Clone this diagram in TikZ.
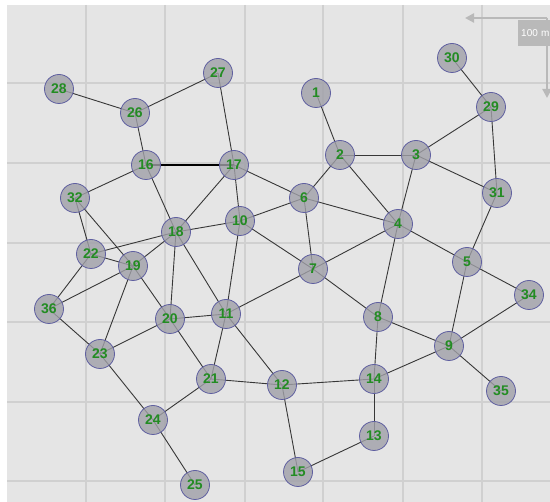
\documentclass[tikz,border=0pt]{standalone}
\usepackage{fontspec}
\setsansfont{Liberation Sans}
\definecolor{mapbg}{RGB}{229,229,229}
\definecolor{mapgrid}{RGB}{208,208,208}
\definecolor{nodefill}{RGB}{160,160,168}
\definecolor{nodering}{RGB}{95,95,160}
\definecolor{nodelabel}{RGB}{35,140,35}
\definecolor{linkdark}{RGB}{55,55,55}
\definecolor{scalegray}{RGB}{185,185,185}
\usetikzlibrary{arrows.meta,backgrounds}

\begin{document}
\begin{tikzpicture}[
  x=1pt, y=-1pt,
  station/.style={circle, draw=nodering, line width=0.8pt, fill=nodefill, fill opacity=0.8, text opacity=1, minimum size=29pt, inner sep=0pt, text=nodelabel, font=\sffamily\bfseries\fontsize{14}{14}\selectfont},
  link/.style={draw=linkdark, line width=0.9pt},
  strong/.style={draw=black, line width=2pt},
  gridline/.style={draw=mapgrid, line width=1.6pt},
  scalearr/.style={-{Triangle[length=9pt,width=9pt]}, draw=scalegray, line width=2.5pt},
  scalebox/.style={fill=scalegray, text=white, font=\sffamily\fontsize{10}{10}\selectfont, text width=34pt, align=left, minimum height=26pt, inner xsep=3pt}
]
\useasboundingbox (0,0) rectangle (550,502);

% stations
\node[station] (n1) at (316,93) {1};
\node[station] (n2) at (340,155) {2};
\node[station] (n3) at (416,155) {3};
\node[station] (n4) at (398,224) {4};
\node[station] (n5) at (467,262) {5};
\node[station] (n6) at (304,198) {6};
\node[station] (n7) at (313,269) {7};
\node[station] (n8) at (378,317) {8};
\node[station] (n9) at (449,346) {9};
\node[station] (n10) at (240,221) {10};
\node[station] (n11) at (226,314) {11};
\node[station] (n12) at (282,385) {12};
\node[station] (n13) at (374,436) {13};
\node[station] (n14) at (374,379) {14};
\node[station] (n15) at (298,472) {15};
\node[station] (n16) at (146,165) {16};
\node[station] (n17) at (234,165) {17};
\node[station] (n18) at (176,232) {18};
\node[station] (n19) at (133,266) {19};
\node[station] (n20) at (170,319) {20};
\node[station] (n21) at (211,379) {21};
\node[station] (n22) at (91,254) {22};
\node[station] (n23) at (100,354) {23};
\node[station] (n24) at (153,420) {24};
\node[station] (n25) at (195,485) {25};
\node[station] (n26) at (135,113) {26};
\node[station] (n27) at (218,73) {27};
\node[station] (n28) at (59,89) {28};
\node[station] (n29) at (491,107) {29};
\node[station] (n30) at (452,58) {30};
\node[station] (n31) at (497,193) {31};
\node[station] (n32) at (75,198) {32};
\node[station] (n34) at (529,295) {34};
\node[station] (n35) at (501,391) {35};
\node[station] (n36) at (49,309) {36};

% scale bar
\coordinate (barcorner) at (547,18);
\coordinate (barwest) at (465,18);
\coordinate (barsouth) at (547,98);
\draw[scalearr] (barcorner) -- (barwest);
\draw[scalearr] (barcorner) -- (barsouth);
\node[scalebox, anchor=north west] (scale) at (518,20) {100 m};

\begin{scope}[on background layer]
\fill[mapbg] (7,5) rectangle (550,502);
\draw[gridline] (86,5) -- (86,502) (165,5) -- (165,502) (245,5) -- (245,502)
  (323,5) -- (323,502) (403,5) -- (403,502) (482,5) -- (482,502);
\draw[gridline] (7,83) -- (550,83) (7,163) -- (550,163) (7,243) -- (550,243)
  (7,322) -- (550,322) (7,402) -- (550,402) (7,481) -- (550,481);

% links
\draw[link] (n28.center) -- (n26.center);
\draw[link] (n26.center) -- (n27.center);
\draw[link] (n26.center) -- (n16.center);
\draw[link] (n27.center) -- (n17.center);
\draw[strong] (n16.center) -- (n17.center);
\draw[link] (n16.center) -- (n32.center);
\draw[link] (n16.center) -- (n18.center);
\draw[link] (n17.center) -- (n18.center);
\draw[link] (n17.center) -- (n10.center);
\draw[link] (n17.center) -- (n6.center);
\draw[link] (n32.center) -- (n22.center);
\draw[link] (n32.center) -- (n19.center);
\draw[link] (n22.center) -- (n18.center);
\draw[link] (n22.center) -- (n19.center);
\draw[link] (n22.center) -- (n36.center);
\draw[link] (n19.center) -- (n18.center);
\draw[link] (n19.center) -- (n36.center);
\draw[link] (n19.center) -- (n23.center);
\draw[link] (n19.center) -- (n20.center);
\draw[link] (n18.center) -- (n10.center);
\draw[link] (n18.center) -- (n20.center);
\draw[link] (n18.center) -- (n11.center);
\draw[link] (n10.center) -- (n6.center);
\draw[link] (n10.center) -- (n7.center);
\draw[link] (n10.center) -- (n11.center);
\draw[link] (n36.center) -- (n23.center);
\draw[link] (n23.center) -- (n20.center);
\draw[link] (n23.center) -- (n24.center);
\draw[link] (n20.center) -- (n11.center);
\draw[link] (n20.center) -- (n21.center);
\draw[link] (n11.center) -- (n7.center);
\draw[link] (n11.center) -- (n21.center);
\draw[link] (n11.center) -- (n12.center);
\draw[link] (n21.center) -- (n12.center);
\draw[link] (n21.center) -- (n24.center);
\draw[link] (n24.center) -- (n25.center);
\draw[link] (n6.center) -- (n2.center);
\draw[link] (n6.center) -- (n4.center);
\draw[link] (n6.center) -- (n7.center);
\draw[link] (n2.center) -- (n1.center);
\draw[link] (n2.center) -- (n3.center);
\draw[link] (n2.center) -- (n4.center);
\draw[link] (n3.center) -- (n29.center);
\draw[link] (n3.center) -- (n31.center);
\draw[link] (n3.center) -- (n4.center);
\draw[link] (n29.center) -- (n30.center);
\draw[link] (n29.center) -- (n31.center);
\draw[link] (n31.center) -- (n5.center);
\draw[link] (n4.center) -- (n5.center);
\draw[link] (n5.center) -- (n34.center);
\draw[link] (n4.center) -- (n7.center);
\draw[link] (n4.center) -- (n8.center);
\draw[link] (n7.center) -- (n8.center);
\draw[link] (n8.center) -- (n9.center);
\draw[link] (n8.center) -- (n14.center);
\draw[link] (n5.center) -- (n9.center);
\draw[link] (n9.center) -- (n34.center);
\draw[link] (n9.center) -- (n35.center);
\draw[link] (n9.center) -- (n14.center);
\draw[link] (n14.center) -- (n12.center);
\draw[link] (n14.center) -- (n13.center);
\draw[link] (n13.center) -- (n15.center);
\draw[link] (n15.center) -- (n12.center);
\end{scope}
\end{tikzpicture}
\end{document}
